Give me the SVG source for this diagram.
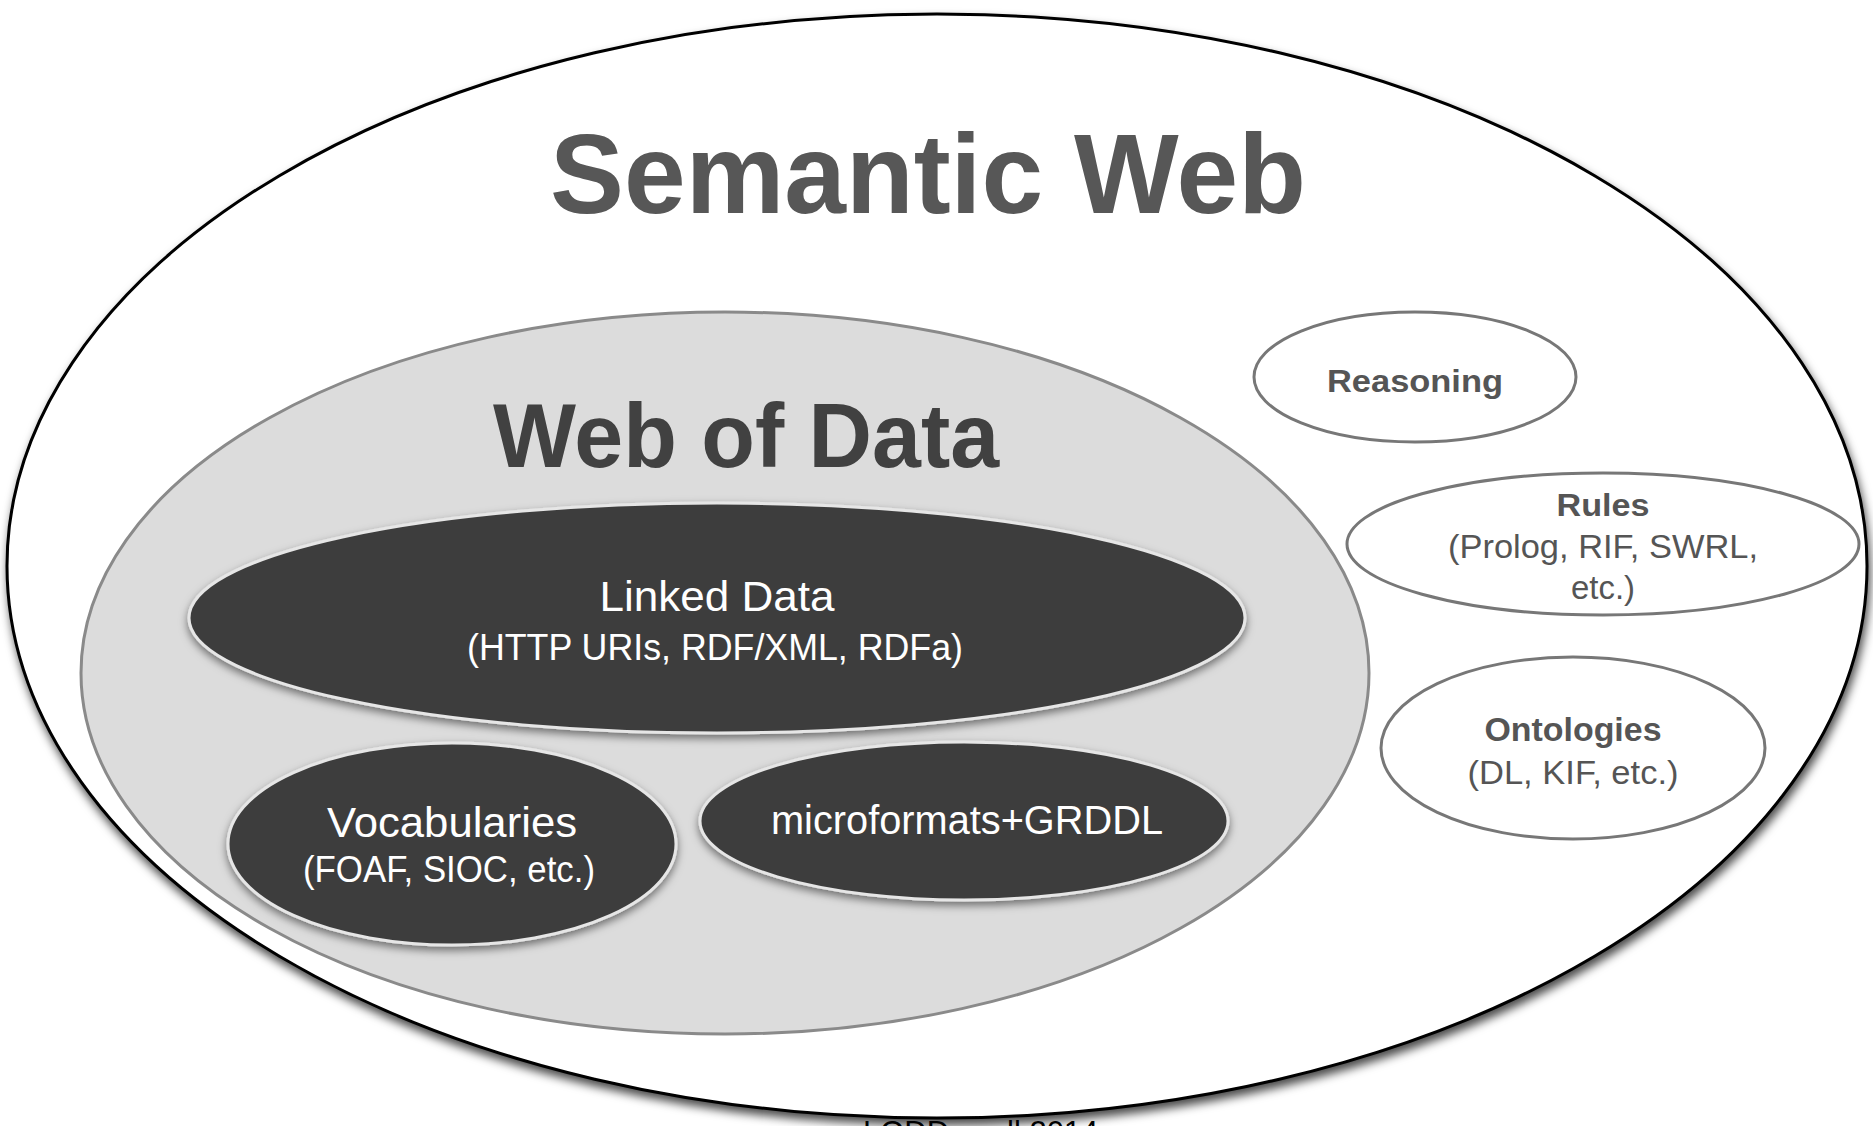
<svg xmlns="http://www.w3.org/2000/svg" width="1873" height="1126" viewBox="0 0 1873 1126">
<style>
.outer{fill:#ffffff;stroke:#000000;stroke-width:3}
.wod{fill:#dcdcdc;stroke:#8a8a8a;stroke-width:3}
.dark{fill:#3e3e3e;stroke:#e6e6e6;stroke-width:3}
.light{fill:#ffffff;stroke:#777777;stroke-width:3}
text{font-family:"Liberation Sans",Arial,Helvetica,sans-serif;text-anchor:middle}
.title{font-weight:bold;fill:#575757}
.title2{font-weight:bold;fill:#414141}
.wt{fill:#ffffff}
.gb{font-weight:bold;fill:#555555}
.gr{fill:#555555}
.foot{fill:#000000;text-anchor:start}
</style>
<defs>
<filter id="shOuter" x="-5%" y="-5%" width="110%" height="115%">
<feDropShadow dx="2" dy="6" stdDeviation="5" flood-color="#000000" flood-opacity="0.7"/>
</filter>
<filter id="shDark" x="-10%" y="-20%" width="120%" height="150%">
<feDropShadow dx="0" dy="4" stdDeviation="4" flood-color="#000000" flood-opacity="0.5"/>
</filter>
</defs>
<rect width="1873" height="1126" fill="#ffffff"/>
<g id="semantic-web">
<ellipse class="outer" cx="937" cy="566" rx="930" ry="552" filter="url(#shOuter)"/>
<text class="title" x="928" y="213" font-size="114" textLength="756" lengthAdjust="spacingAndGlyphs">Semantic Web</text>
</g>
<g id="web-of-data">
<ellipse class="wod" cx="725" cy="673" rx="644" ry="361"/>
<text class="title2" x="746" y="467" font-size="90" textLength="506" lengthAdjust="spacingAndGlyphs">Web of Data</text>
</g>
<g id="linked-data">
<ellipse class="dark" cx="717" cy="618" rx="528" ry="115" filter="url(#shDark)"/>
<text class="wt" x="717" y="611" font-size="43" textLength="235" lengthAdjust="spacingAndGlyphs">Linked Data</text>
<text class="wt" x="715" y="660" font-size="37" textLength="496" lengthAdjust="spacingAndGlyphs">(HTTP URIs, RDF/XML, RDFa)</text>
</g>
<g id="vocabularies">
<ellipse class="dark" cx="452" cy="844" rx="224" ry="101" filter="url(#shDark)"/>
<text class="wt" x="452" y="837" font-size="43" textLength="250" lengthAdjust="spacingAndGlyphs">Vocabularies</text>
<text class="wt" x="449" y="882" font-size="36" textLength="292" lengthAdjust="spacingAndGlyphs">(FOAF, SIOC, etc.)</text>
</g>
<g id="microformats">
<ellipse class="dark" cx="964" cy="821" rx="264" ry="79" filter="url(#shDark)"/>
<text class="wt" x="967" y="834" font-size="40" textLength="392" lengthAdjust="spacingAndGlyphs">microformats+GRDDL</text>
</g>
<g id="reasoning">
<ellipse class="light" cx="1415" cy="377" rx="161" ry="65"/>
<text class="gb" x="1415" y="392" font-size="32" textLength="176" lengthAdjust="spacingAndGlyphs">Reasoning</text>
</g>
<g id="rules">
<ellipse class="light" cx="1603" cy="544" rx="256" ry="71"/>
<text class="gb" x="1603" y="516" font-size="32" textLength="93" lengthAdjust="spacingAndGlyphs">Rules</text>
<text class="gr" x="1603" y="558" font-size="33" textLength="310" lengthAdjust="spacingAndGlyphs">(Prolog, RIF, SWRL,</text>
<text class="gr" x="1603" y="599" font-size="33" textLength="64" lengthAdjust="spacingAndGlyphs">etc.)</text>
</g>
<g id="ontologies">
<ellipse class="light" cx="1573" cy="748" rx="192" ry="91"/>
<text class="gb" x="1573" y="741" font-size="33" textLength="177" lengthAdjust="spacingAndGlyphs">Ontologies</text>
<text class="gr" x="1573" y="784" font-size="33" textLength="211" lengthAdjust="spacingAndGlyphs">(DL, KIF, etc.)</text>
</g>
<g id="connectors"></g>
<g id="footer">
<text class="foot" x="863" y="1143" font-size="31">LODD</text>
<text class="foot" x="1007" y="1143" font-size="31">ll 2014</text>
</g>
</svg>
